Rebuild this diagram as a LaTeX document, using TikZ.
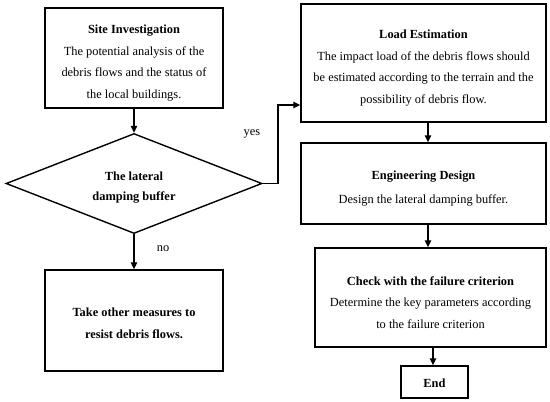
\documentclass[tikz,border=0pt]{standalone}
\usepackage{fontspec}
\setmainfont{Liberation Serif}
\usetikzlibrary{shapes.geometric,arrows.meta,calc}
\begin{document}
\begin{tikzpicture}[x=1pt,y=-1pt,
  box/.style={draw,line width=1.4pt,inner sep=0pt},
  txt/.style={inner sep=0pt,align=center,font=\fontsize{12.4}{21.5}\selectfont},
  btxt/.style={txt,font=\bfseries\fontsize{12.4}{21.5}\selectfont},
  decision/.style={draw,diamond,aspect=2.5,line width=1.4pt,inner sep=0pt},
  arr/.style={line width=1.2pt,-{Triangle[length=7pt,width=6.5pt]}},
  lbl/.style={font=\fontsize{12.4}{14}\selectfont,inner sep=0pt}]
\useasboundingbox (0,0) rectangle (550,402);
% shapes
\node[box,minimum width=178pt,minimum height=100pt] (site) at (134,58) {};
\node[decision,minimum width=256pt,minimum height=100pt] (dia) at (134,183.5) {};
\node[box,minimum width=178pt,minimum height=101pt] (take) at (134,320.5) {};
\node[box,minimum width=245pt,minimum height=118pt] (load) at (423.5,63) {};
\node[box,minimum width=245pt,minimum height=81pt] (eng) at (423.5,183.5) {};
\node[box,minimum width=231pt,minimum height=99pt] (check) at (430.5,297.5) {};
\node[box,minimum width=67pt,minimum height=32pt] (end) at (434.5,382) {};
% texts
\node[txt] (siteT) at (134,63)
  {\textbf{Site Investigation}\\The potential analysis of the\\debris flows and the status of\\the local buildings.};
\node[btxt,font=\bfseries\fontsize{12.4}{19.5}\selectfont] (diaT) at (134,187.5)
  {The lateral\\damping buffer};
\node[btxt] (takeT) at (134,323.5)
  {Take other measures to\\resist debris flows.};
\node[txt] (loadT) at (423.5,68)
  {\textbf{Load Estimation}\\The impact load of the debris flows should\\be estimated according to the terrain and the\\possibility of debris flow.};
\node[txt,font=\fontsize{12.4}{24}\selectfont] (engT) at (423.5,189)
  {\textbf{Engineering Design}\\Design the lateral damping buffer.};
\node[txt] (checkT) at (430.5,302.5)
  {\textbf{Check with the failure criterion}\\Determine the key parameters according\\to the failure criterion};
\node[btxt] (endT) at (434.5,383) {End};
\node[lbl] (yes) at (252,134) {yes};
\node[lbl] (no) at (163,249) {no};
% connectors
\coordinate (j1) at (278,183.5);
\coordinate (j2) at (278,105);
\coordinate (cx) at (428,0);
\coordinate (ex) at (433,0);
\draw[arr] (site.south) -- (site.south |- dia.north);
\draw[arr] (dia.south) -- (dia.south |- take.north);
\draw[arr] (dia.east) -- (j1) -- (j2) -- (j2 -| load.west);
\draw[arr] (load.south -| cx) -- (eng.north -| cx);
\draw[arr] (eng.south -| cx) -- (check.north -| cx);
\draw[arr] (check.south -| ex) -- (end.north -| ex);
\end{tikzpicture}
\end{document}
